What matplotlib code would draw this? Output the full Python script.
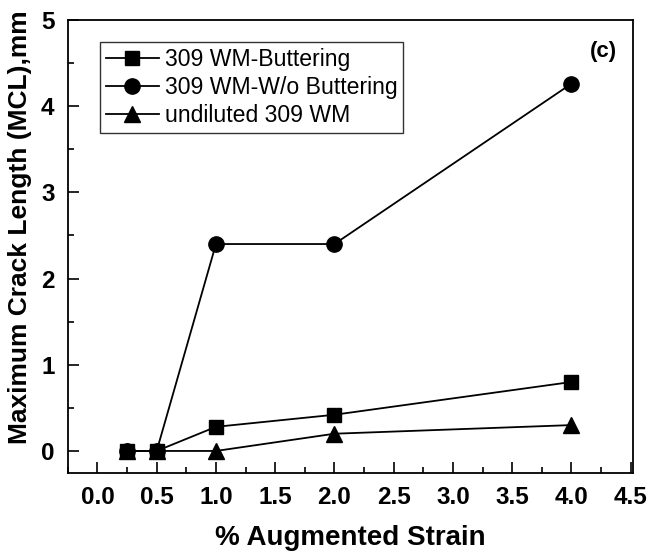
import matplotlib
matplotlib.use("Agg")
import matplotlib.pyplot as plt
from matplotlib.ticker import MultipleLocator

plt.rcParams['font.family'] = ['Liberation Sans', 'DejaVu Sans']

# data
strain = [0.25, 0.5, 1.0, 2.0, 4.0]
mcl_buttering = [0.0, 0.0, 0.28, 0.42, 0.80]
mcl_no_buttering = [0.0, 0.0, 2.40, 2.40, 4.26]
mcl_undiluted = [0.0, 0.0, 0.0, 0.20, 0.30]
labels = ['309 WM-Buttering', '309 WM-W/o Buttering', 'undiluted 309 WM']
xticks = [0.0, 0.5, 1.0, 1.5, 2.0, 2.5, 3.0, 3.5, 4.0, 4.5]
yticks = [0, 1, 2, 3, 4, 5]

fig = plt.figure(figsize=(6.52, 5.52), dpi=100)
ax = fig.add_axes([0.104, 0.144, 0.867, 0.820])

ax.plot(strain, mcl_buttering, '-s', color='black', lw=1.3, ms=9.5, label=labels[0])
ax.plot(strain, mcl_no_buttering, '-o', color='black', lw=1.3, ms=11, label=labels[1])
ax.plot(strain, mcl_undiluted, '-^', color='black', lw=1.3, ms=11, label=labels[2])

ax.set_xlim(-0.25, 4.52)
ax.set_ylim(-0.25, 5)
ax.set_xticks(xticks)
ax.set_xticklabels(['%.1f' % v for v in xticks])
ax.set_yticks(yticks)
ax.xaxis.set_minor_locator(MultipleLocator(0.25))
ax.yaxis.set_minor_locator(MultipleLocator(0.5))

ax.tick_params(which='both', direction='in', top=False, right=False, width=1.2)
ax.tick_params(which='major', length=8, labelsize=17.5, pad=9.5)
ax.tick_params(which='minor', length=4)
for t in ax.get_xticklabels() + ax.get_yticklabels():
    t.set_fontweight('bold')
for s in ax.spines.values():
    s.set_linewidth(1.3)

ax.set_xlabel('% Augmented Strain', fontsize=20, fontweight='bold')
ax.set_ylabel('Maximum Crack Length (MCL),mm', fontsize=19, fontweight='bold')
ax.xaxis.set_label_coords(0.499, -0.117)
ax.yaxis.set_label_coords(-0.064, 0.543)

ax.text(0.972, 0.93, '(c)', transform=ax.transAxes, fontsize=16, fontweight='bold',
        ha='right', va='center')

leg = ax.legend(loc='upper left', bbox_to_anchor=(0.057, 0.951), fontsize=16.6,
                frameon=True, fancybox=False, edgecolor='black', handlelength=2.3,
                handletextpad=0.25, borderpad=0.25, labelspacing=0.22, borderaxespad=0)
leg.get_frame().set_linewidth(1.0)

fig.savefig('out.png', dpi=100)
